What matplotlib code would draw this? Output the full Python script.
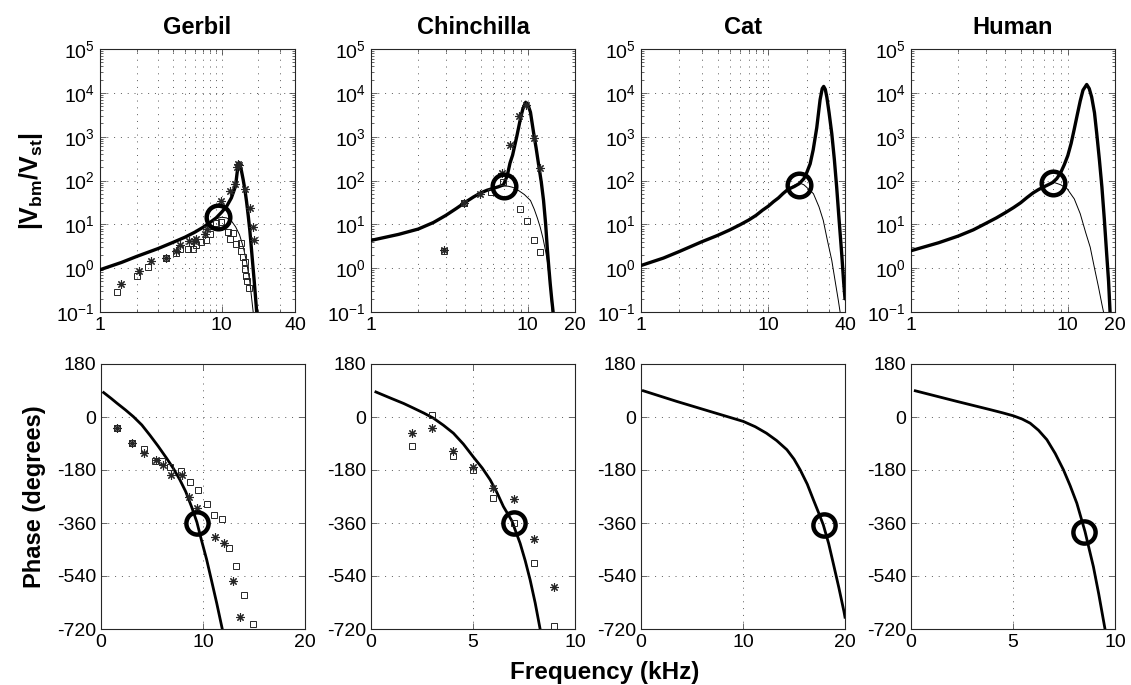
"""Basilar-membrane to stapes velocity ratio: magnitude and phase, four species."""
import matplotlib
matplotlib.use("Agg")
import matplotlib.pyplot as plt
from matplotlib.ticker import FixedLocator, NullFormatter, LogLocator

plt.rcParams["font.family"] = ["Liberation Sans", "DejaVu Sans"]
plt.rcParams["mathtext.fontset"] = "custom"
plt.rcParams["mathtext.rm"] = "Liberation Sans"
plt.rcParams["mathtext.bf"] = "Liberation Sans:bold"
plt.rcParams["mathtext.it"] = "Liberation Sans:italic"
plt.rcParams["axes.unicode_minus"] = False

SPECIES = ["Gerbil", "Chinchilla", "Cat", "Human"]

# ---- magnitude (top row), frequency in kHz ----
gerbil_thick_f = [1.0, 1.5, 2.0, 3.0, 4.0, 5.0, 6.0, 7.0, 8.0, 9.0, 10.0, 11.0, 12.0, 12.5,
                  13.0, 13.3, 13.7, 14.0, 14.5, 15.0, 15.5, 16.0, 16.5, 17.0, 17.5, 18.0,
                  18.5, 19.0, 19.5]
gerbil_thick_m = [0.92, 1.35, 1.85, 2.8, 3.9, 5.1, 6.6, 8.5, 11, 14, 19, 26, 40, 55,
                  75, 130, 250, 240, 170, 105, 62, 33, 16, 7.5, 3.0, 1.2,
                  0.5, 0.2, 0.08]
gerbil_thin_f = [8.0, 9.0, 10.0, 11.0, 12.0, 13.0, 14.0, 15.0, 16.0, 17.0, 18.0, 18.3]
gerbil_thin_m = [11, 13.5, 14.5, 14, 12, 8.8, 5.8, 3.1, 1.4, 0.5, 0.12, 0.08]
gerbil_sq_f = [1.37, 2.0, 2.49, 3.47, 4.2, 4.58, 5.33, 5.82, 6.2, 6.8, 7.4, 8.0, 9.05, 9.95,
               11.3, 12.4, 11.6, 13.2, 14.5, 14.5, 15.0, 15.4, 15.4, 15.9, 16.1, 16.7]
gerbil_sq_m = [0.28, 0.65, 1.05, 1.73, 2.2, 2.8, 2.7, 2.7, 3.3, 3.9, 4.3, 6.1, 10.9, 11.2,
               6.6, 6.3, 4.7, 3.6, 3.7, 2.5, 1.78, 1.37, 0.97, 0.68, 0.52, 0.36]
gerbil_st_f = [1.48, 2.1, 2.6, 3.47, 4.2, 4.58, 5.4, 5.9, 6.1, 7.3, 7.6, 9.95, 11.6, 12.8,
               13.3, 13.6, 13.9, 15.4, 17.2, 18.1, 18.4]
gerbil_st_m = [0.44, 0.85, 1.45, 1.73, 2.5, 3.4, 4.1, 4.1, 4.7, 6.1, 7.9, 34, 59, 85,
               200, 240, 230, 65, 23, 8.6, 4.3]
gerbil_circ = (9.3, 15)

chin_thick_f = [1.0, 1.5, 2.0, 2.5, 3.0, 3.5, 4.0, 4.5, 5.0, 5.5, 6.0, 6.5, 7.0, 7.4, 7.7,
                8.0, 8.5, 9.0, 9.3, 9.7, 10.0, 10.4, 10.9, 11.3, 11.7, 12.2, 12.6, 13.0,
                13.3, 13.6, 13.9, 14.2, 14.6]
chin_thick_m = [4.3, 5.9, 7.8, 11, 16, 23, 32, 42, 52, 60, 66, 72, 80, 130, 250,
                380, 1000, 2700, 4300, 6100, 5500, 3600, 1200, 550, 240, 90, 35, 10,
                3.0, 1.1, 0.44, 0.2, 0.08]
chin_thin_f = [6.5, 7.0, 7.5, 8.0, 8.5, 9.5, 10.4, 11.0, 11.5, 12.0, 12.5, 13.0, 13.3,
               13.6, 13.9, 14.2, 14.4]
chin_thin_m = [72, 75, 74, 70, 63, 48, 35, 22, 14, 8.6, 4.8, 2.4, 1.5,
               0.75, 0.37, 0.14, 0.08]
chin_sq_f = [2.94, 3.94, 5.8, 6.95, 8.87, 9.9, 11.0, 12.0]
chin_sq_m = [2.5, 30, 54, 92, 22, 11.8, 4.3, 2.3]
chin_st_f = [2.94, 3.94, 4.93, 6.8, 7.7, 8.75, 9.8, 11.0, 12.0]
chin_st_m = [2.6, 30.5, 48, 150, 630, 2950, 5400, 950, 190]
chin_circ = (7.0, 75)

cat_thick_f = [1, 1.5, 2, 3, 4, 5, 6, 7, 8, 9, 10, 11, 12, 13, 14, 15, 16, 17.5, 19, 20,
               21.3, 22.5, 24, 25.5, 26.5, 27.2, 28, 28.8, 30, 31.5, 33, 34.4, 36, 37.7,
               39, 40]
cat_thick_m = [1.15, 1.7, 2.4, 4.0, 5.6, 7.5, 9.8, 12.5, 16, 21, 26, 33, 40, 50, 60, 67,
               73, 85, 110, 150, 240, 500, 1600, 7000, 12500, 14000, 12000, 8000, 3500,
               1170, 300, 71, 12, 2.1, 0.5, 0.2]
cat_thin_f = [14, 16, 17.7, 19, 20, 22.6, 25, 27, 29, 31.5, 33.5, 35.5, 36.6]
cat_thin_m = [62, 78, 87, 80, 70, 50, 25, 12.3, 4.5, 1.5, 0.5, 0.18, 0.1]
cat_circ = (17.5, 81)

hum_thick_f = [1, 1.5, 2, 2.5, 3, 3.5, 4, 4.5, 5, 5.5, 6, 6.5, 7, 7.5, 8, 8.5, 9, 9.5, 10,
               10.5, 11, 11.5, 12, 12.5, 13.2, 13.7, 14.2, 14.8, 15.3, 15.9, 16.5, 17.1,
               17.7, 18.2, 18.6, 18.8]
hum_thick_m = [2.5, 3.8, 5.4, 7.5, 10.5, 14, 18.5, 24, 31, 41, 52, 62, 71, 80, 90, 110,
               150, 230, 370, 700, 1500, 3200, 6500, 11500, 15500, 12500, 8000, 3500,
               1170, 300, 71, 13, 2.1, 0.5, 0.1, 0.06]
hum_thin_f = [7, 8.2, 9, 9.9, 11, 12, 13, 13.9, 14.8, 15.7, 16.5, 16.9, 17.1]
hum_thin_m = [70, 90, 80, 65, 38, 17.5, 6.5, 3.0, 1.0, 0.37, 0.15, 0.1, 0.07]
hum_circ = (8.0, 87)

# ---- phase (bottom row), degrees ----
gerbil_ph_f = [0.26, 1.0, 1.56, 2.4, 3.18, 4.0, 4.8, 5.6, 6.43, 7.1, 7.73, 8.3, 8.87, 9.4,
               9.84, 10.35, 10.82, 11.35, 11.89, 12.0]
gerbil_ph_d = [83, 63, 47, 24, 1, -27, -62, -99, -140, -175, -213, -253, -304, -357,
               -417, -483, -553, -633, -720, -737]
gerbil_ph_sq_f = [1.56, 3.0, 4.2, 5.3, 5.95, 6.75, 7.83, 8.7, 9.55, 10.35, 11.1, 11.9, 12.5,
                  13.25, 14.0, 14.9]
gerbil_ph_sq_d = [-37, -88, -109, -148, -149, -170, -185, -221, -247, -296, -332, -346,
                  -444, -506, -605, -704]
gerbil_ph_st_f = [1.56, 3.0, 4.25, 5.4, 6.1, 6.85, 7.9, 8.6, 9.45, 11.2, 12.1, 12.9, 13.6]
gerbil_ph_st_d = [-37, -88, -123, -145, -162, -196, -196, -270, -308, -406, -429, -556,
                  -678]
gerbil_ph_circ = (9.4, -360)

chin_ph_f = [0.24, 1.0, 1.6, 2.09, 2.6, 3.06, 3.55, 4.04, 4.53, 5.02, 5.45, 5.84, 6.17,
             6.49, 6.9, 7.31, 7.56, 7.8, 8.05, 8.29, 8.35]
chin_ph_d = [85, 63, 46, 30, 13, -4, -28, -55, -92, -136, -173, -213, -256, -304, -352,
             -429, -488, -553, -632, -720, -740]
chin_ph_sq_f = [2.0, 3.0, 4.03, 5.02, 6.0, 7.03, 8.0, 8.99]
chin_ph_sq_d = [-98, 8, -132, -179, -274, -361, -497, -710]
chin_ph_st_f = [2.0, 3.0, 4.03, 5.02, 6.0, 7.03, 8.0, 8.99]
chin_ph_st_d = [-53, -38, -115, -170, -242, -279, -414, -578]
chin_ph_circ = (7.0, -360)

cat_ph_f = [0.23, 3.5, 6.76, 8.4, 10.03, 11.2, 12.3, 13.3, 14.3, 15.0, 15.6, 16.3, 16.9,
            17.4, 17.87, 18.4, 18.85, 19.4, 19.9, 20.0]
cat_ph_d = [89, 53, 19, 2, -15, -33, -55, -80, -111, -143, -179, -228, -281, -324, -366,
            -430, -497, -580, -661, -680]
cat_ph_circ = (17.9, -366)

hum_ph_f = [0.21, 2.25, 3.88, 4.5, 5.02, 5.45, 5.84, 6.25, 6.66, 7.07, 7.47, 7.8, 8.13,
            8.53, 8.94, 9.2, 9.51, 9.6]
hum_ph_d = [89, 53, 25, 14, 4, -7, -21, -45, -77, -124, -179, -233, -293, -389, -508,
            -600, -720, -750]
hum_ph_circ = (8.5, -390)

W, H = 1131, 685
GRID = dict(color="0.35", linestyle=(0, (1, 6)), linewidth=0.7)


def px_axes(fig, x0, x1, y0, y1):
    return fig.add_axes([x0 / W, 1 - y1 / H, (x1 - x0) / W, (y1 - y0) / H])


def style(ax):
    for s in ax.spines.values():
        s.set_linewidth(0.8)
        s.set_color("0.15")
    ax.tick_params(which="both", direction="in", top=True, right=True,
                   labelsize=14, width=0.6, color="0.3")
    ax.tick_params(which="major", length=4)
    ax.tick_params(which="minor", length=2)


def top_panel(ax, name, xmax, thick, thin, circ, squares=None, stars=None):
    ax.set_xscale("log")
    ax.set_yscale("log")
    ax.plot(*thick, color="k", lw=2.4, solid_capstyle="round", zorder=3)
    ax.plot(*thin, color="k", lw=0.7, zorder=3)
    if squares is not None:
        ax.plot(*squares, ls="none", marker="s", ms=4.2, mfc="none", mec="0.15",
                mew=0.7, zorder=4)
    if stars is not None:
        ax.plot(*stars, ls="none", marker=(8, 2, 0), ms=6, mec="0.15", mew=0.8,
                zorder=4)
    ax.plot(*circ, ls="none", marker="o", ms=17, mfc="none", mec="k", mew=3.2,
            zorder=5)
    ax.set_xlim(1, xmax)
    ax.set_ylim(1e-1, 1e5)
    ax.xaxis.set_major_locator(FixedLocator([1, 10, xmax]))
    ax.set_xticklabels(["1", "10", str(xmax)])
    ax.xaxis.set_minor_locator(FixedLocator([2, 3, 4, 5, 6, 7, 8, 9, 20, 30]))
    ax.xaxis.set_minor_formatter(NullFormatter())
    ax.yaxis.set_major_locator(LogLocator(base=10, numticks=10))
    ax.yaxis.set_minor_locator(LogLocator(base=10, subs=range(2, 10), numticks=20))
    ax.yaxis.set_minor_formatter(NullFormatter())
    ax.grid(True, which="major", **GRID)
    ax.xaxis.grid(True, which="minor", **GRID)
    ax.set_axisbelow(True)
    ax.set_title(name, fontsize=17, fontweight="bold", pad=11)
    style(ax)


def bottom_panel(ax, xmax, curve, circ, squares=None, stars=None):
    ax.plot(*curve, color="k", lw=2.0, zorder=3)
    if squares is not None:
        ax.plot(*squares, ls="none", marker="s", ms=4.2, mfc="none", mec="0.15",
                mew=0.7, zorder=4)
    if stars is not None:
        ax.plot(*stars, ls="none", marker=(8, 2, 0), ms=6, mec="0.15", mew=0.8,
                zorder=4)
    ax.plot(*circ, ls="none", marker="o", ms=16, mfc="none", mec="k", mew=3.2,
            zorder=5)
    ax.set_xlim(0, xmax)
    ax.set_ylim(-720, 180)
    ax.set_xticks([0, xmax / 2, xmax])
    ax.set_xticklabels([str(int(v)) for v in (0, xmax / 2, xmax)])
    ax.set_yticks([180, 0, -180, -360, -540, -720])
    ax.grid(True, **GRID)
    ax.set_axisbelow(True)
    style(ax)


fig = plt.figure(figsize=(W / 100, H / 100), dpi=100)

top_x = [(100, 295), (371, 575), (641, 845), (911, 1115)]
bot_x = [(101, 305), (371, 575), (641, 845), (911, 1115)]

ax = px_axes(fig, *top_x[0], 49, 312)
top_panel(ax, "Gerbil", 40, (gerbil_thick_f, gerbil_thick_m),
          (gerbil_thin_f, gerbil_thin_m), gerbil_circ,
          (gerbil_sq_f, gerbil_sq_m), (gerbil_st_f, gerbil_st_m))
ax.set_ylabel(r"$\mathbf{|V_{bm}/V_{st}|}$", fontsize=18, labelpad=8)

ax = px_axes(fig, *top_x[1], 49, 312)
top_panel(ax, "Chinchilla", 20, (chin_thick_f, chin_thick_m),
          (chin_thin_f, chin_thin_m), chin_circ,
          (chin_sq_f, chin_sq_m), (chin_st_f, chin_st_m))

ax = px_axes(fig, *top_x[2], 49, 312)
top_panel(ax, "Cat", 40, (cat_thick_f, cat_thick_m), (cat_thin_f, cat_thin_m), cat_circ)

ax = px_axes(fig, *top_x[3], 49, 312)
top_panel(ax, "Human", 20, (hum_thick_f, hum_thick_m), (hum_thin_f, hum_thin_m), hum_circ)

ax = px_axes(fig, *bot_x[0], 364, 629)
bottom_panel(ax, 20, (gerbil_ph_f, gerbil_ph_d), gerbil_ph_circ,
             (gerbil_ph_sq_f, gerbil_ph_sq_d), (gerbil_ph_st_f, gerbil_ph_st_d))
ax.set_ylabel("Phase (degrees)", fontsize=17, fontweight="bold", labelpad=8)

ax = px_axes(fig, *bot_x[1], 364, 629)
bottom_panel(ax, 10, (chin_ph_f, chin_ph_d), chin_ph_circ,
             (chin_ph_sq_f, chin_ph_sq_d), (chin_ph_st_f, chin_ph_st_d))

ax = px_axes(fig, *bot_x[2], 364, 629)
bottom_panel(ax, 20, (cat_ph_f, cat_ph_d), cat_ph_circ)

ax = px_axes(fig, *bot_x[3], 364, 629)
bottom_panel(ax, 10, (hum_ph_f, hum_ph_d), hum_ph_circ)

fig.text(605 / W, 1 - 673 / H, "Frequency (kHz)", ha="center", va="center",
         fontsize=17.5, fontweight="bold")

fig.savefig("out.png", dpi=100)
